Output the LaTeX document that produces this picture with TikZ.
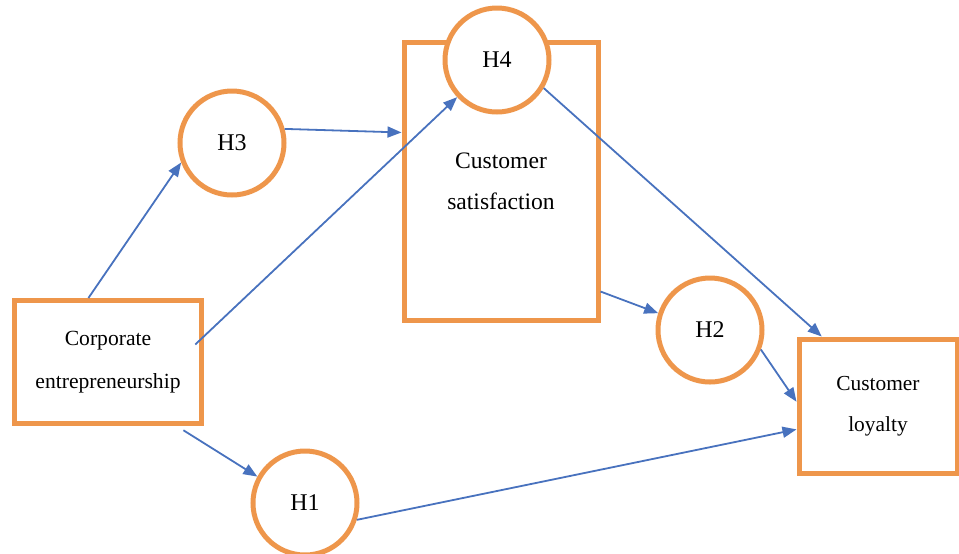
\documentclass[tikz,border=0pt]{standalone}
\usepackage{fontspec}
\setmainfont{Liberation Serif}
\usetikzlibrary{arrows.meta}
\definecolor{boxorange}{RGB}{238,150,75}
\definecolor{linkblue}{RGB}{72,114,190}

\begin{document}
\begin{tikzpicture}[x=0.5pt, y=-0.5pt,
    construct/.style={draw=boxorange, line width=2.5pt, rectangle, align=center},
    hypo/.style={draw=boxorange, line width=2.5pt, circle, minimum size=52pt, inner sep=0pt, font=\fontsize{12}{14}\selectfont},
    link/.style={draw=linkblue, line width=0.9pt, -{Triangle[length=7pt, width=5.5pt]}}]
    \useasboundingbox (0,0) rectangle (959,553);
    % constructs
    \node[construct, minimum width=93.5pt, minimum height=61.5pt, font=\fontsize{10.8}{21.5}\selectfont] (ce) at (108,362) {Corporate\\entrepreneurship};
    \node[construct, minimum width=97pt, minimum height=139pt, font=\fontsize{11.8}{20.5}\selectfont] (cs) at (501,181) {Customer\\satisfaction};
    \node[construct, minimum width=79pt, minimum height=67pt, font=\fontsize{10.7}{20.5}\selectfont] (cl) at (878,406) {Customer\\loyalty};
    % hypotheses
    \node[hypo, fill=white] (h4) at (497,60) {H4};
    \node[hypo] (h3) at (232,143) {H3};
    \node[hypo] (h2) at (710,330) {H2};
    \node[hypo] (h1) at (305,503) {H1};
    % paths
    \draw[link] (ce.107) -- (h3.201);
    \draw[link] (h3.15) -- (cs.154);
    \draw[link, shorten <=-6pt] (ce.15) -- (h4.223);
    \draw[link, shorten <=4pt] (ce.-43) -- (h1.151);
    \draw[link] (h1.-18) -- (cl.196);
    \draw[link] (cs.-48) -- (h2.162);
    \draw[link] (h2.-21) -- (cl.177);
    \draw[link] (h4.-31) -- (cl.129);
\end{tikzpicture}
\end{document}
